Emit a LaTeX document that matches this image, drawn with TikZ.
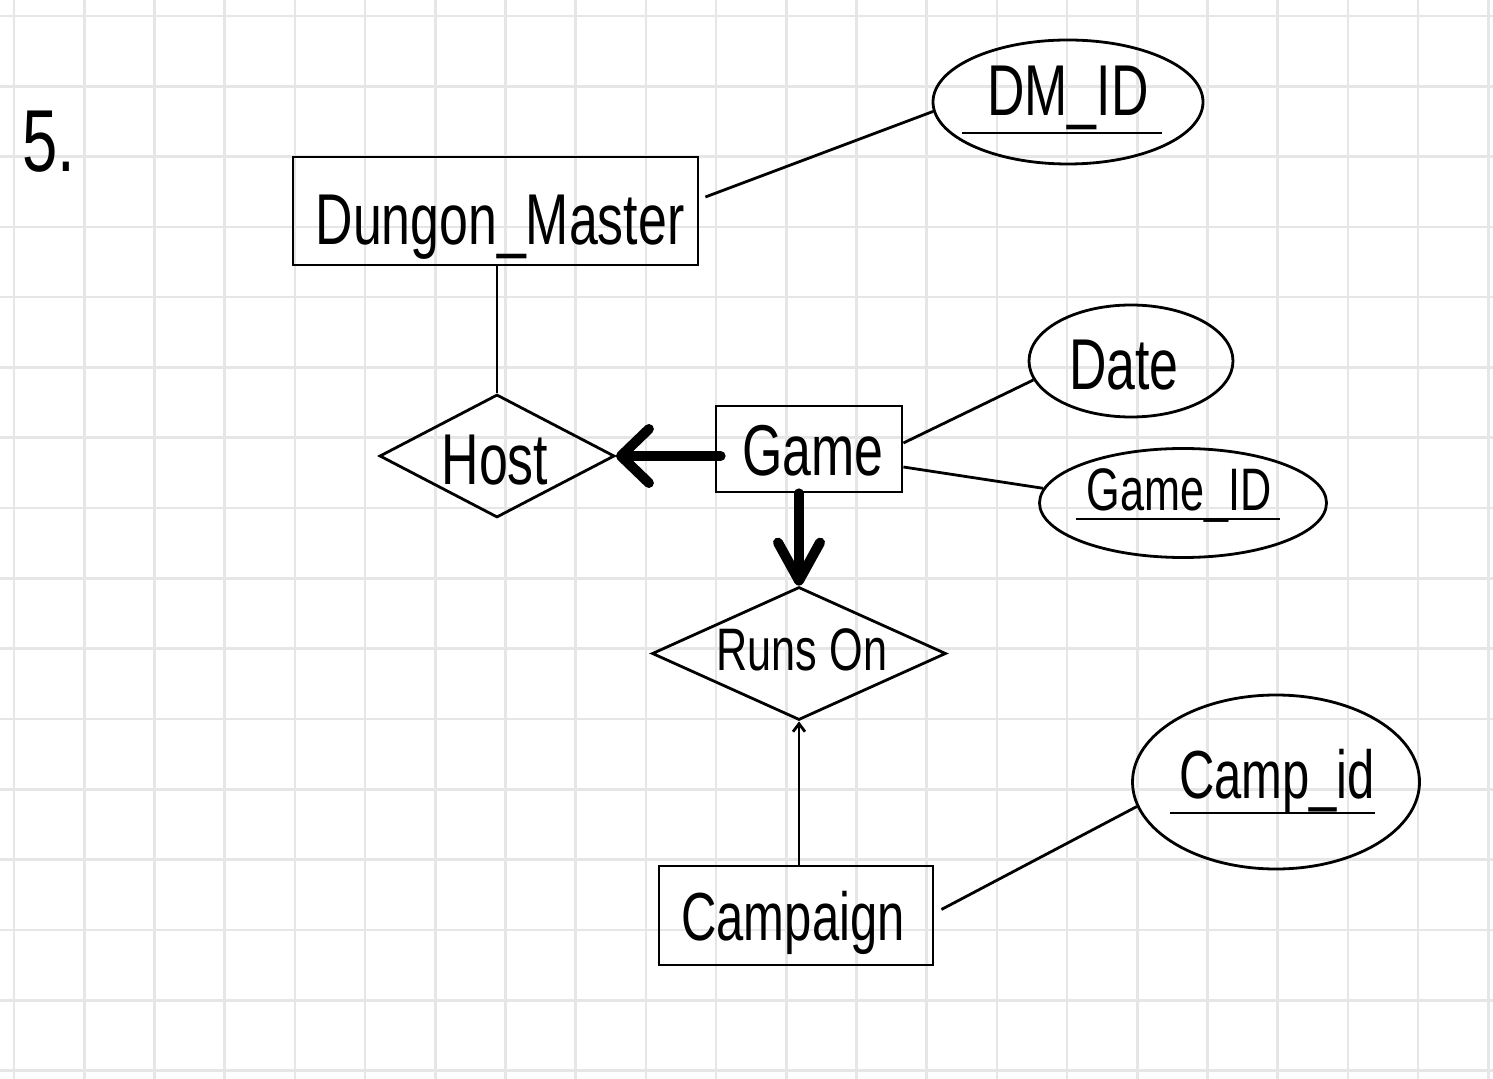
\documentclass[tikz,border=0pt]{standalone}
\usepackage{fontspec}
\newfontfamily\hand{Liberation Sans}[FakeStretch=0.72]
\usetikzlibrary{shapes.geometric,arrows.meta,calc}
\begin{document}
\begin{tikzpicture}[x=0.5pt,y=-0.5pt,
  ln/.style={line width=1.4pt, draw=black},
  gridline/.style={line width=1.3pt, draw=gridgray},
  ent/.style={ln, rectangle, inner sep=0pt},
  attr/.style={ln, ellipse, inner sep=0pt},
  rel/.style={ln, diamond, inner sep=0pt},
  txt/.style={font=\hand\fontsize{#1}{#1}\selectfont, inner sep=0pt, anchor=base},
  txt/.default=36,
  heavy/.style={line width=5pt, line cap=round, draw=black}]
\definecolor{gridgray}{HTML}{E6E6E6}
\useasboundingbox (0,0) rectangle (1493,1079);
\fill[white] (0,0) rectangle (1493,1079);
% grid paper
\foreach \i in {0,...,21} \draw[gridline] ({14+70.2*\i},0) -- ({14+70.2*\i},1079);
\foreach \j in {0,...,15} \draw[gridline] (0,{16+70.3*\j}) -- (1493,{16+70.3*\j});

% shapes
\node[ent, minimum width=202.5pt, minimum height=54pt] (dm) at (495.5,211) {};
\node[attr, minimum width=135pt, minimum height=62pt] (dmid) at (1068,102) {};
\node[rel, minimum width=117.5pt, minimum height=61.5pt] (host) at (497,456) {};
\node[ent, minimum width=93pt, minimum height=43pt] (game) at (809,449) {};
\node[attr, minimum width=102pt, minimum height=56pt] (date) at (1131,361) {};
\node[attr, minimum width=143.5pt, minimum height=54.5pt] (gameid) at (1183,503) {};
\node[rel, minimum width=147pt, minimum height=66.5pt] (runs) at (799,653.5) {};
\node[ent, minimum width=137pt, minimum height=49.5pt] (campaign) at (796,915.5) {};
\node[attr, minimum width=143.5pt, minimum height=87pt] (campid) at (1276,782) {};

% texts
\node[txt=44, anchor=base west] (num) at (22,172) {5.};
\node[txt=36] (dmt) at (500,245) {Dungon\_Master};
\node[txt=36] (dmidt) at (1068,116) {DM\_ID};
\node[txt=36] (hostt) at (495,485) {Host};
\node[txt=36] (gamet) at (813,476) {Game};
\node[txt=36] (datet) at (1124,390) {Date};
\node[txt=30] (gameidt) at (1179,510) {Game\_ID};
\node[txt=30] (runst) at (802,670) {Runs On};
\node[txt=34] (campaignt) at (793,940) {Campaign};
\node[txt=34] (campidt) at (1277,798) {Camp\_id};

% key underlines
\draw[ln] ($(dmid)+(-106,31)$) -- ($(dmid)+(94,31)$);
\draw[ln] ($(gameid)+(-107,16)$) -- ($(gameid)+(97,16)$);
\draw[ln] ($(campid)+(-106,31)$) -- ($(campid)+(99,31)$);

% connectors
\draw[ln] ($(dm.east)+(6,-14)$) -- (dmid.184);
\draw[ln] (host.north |- dm.south) -- (host.north);
\draw[ln] ($(game.east)+(0,-6)$) -- (date.191);
\draw[ln] ($(game.east)+(0,18)$) -- (gameid.174);
\draw[ln] ($(campaign.east)+(7,-6)$) -- (campid.190);
\draw[heavy, -{Straight Barb[length=14pt,width=27pt,round]}] ($(game.west |- host.east)+(6,0)$) -- (host.east);
\draw[heavy, -{Straight Barb[length=19pt,width=21pt,round]}] (runs.north |- game.south) -- (runs.north);
\draw[ln, -{Straight Barb[length=4pt,width=6pt]}] (runs.south |- campaign.north) -- (runs.south);
\end{tikzpicture}
\end{document}
